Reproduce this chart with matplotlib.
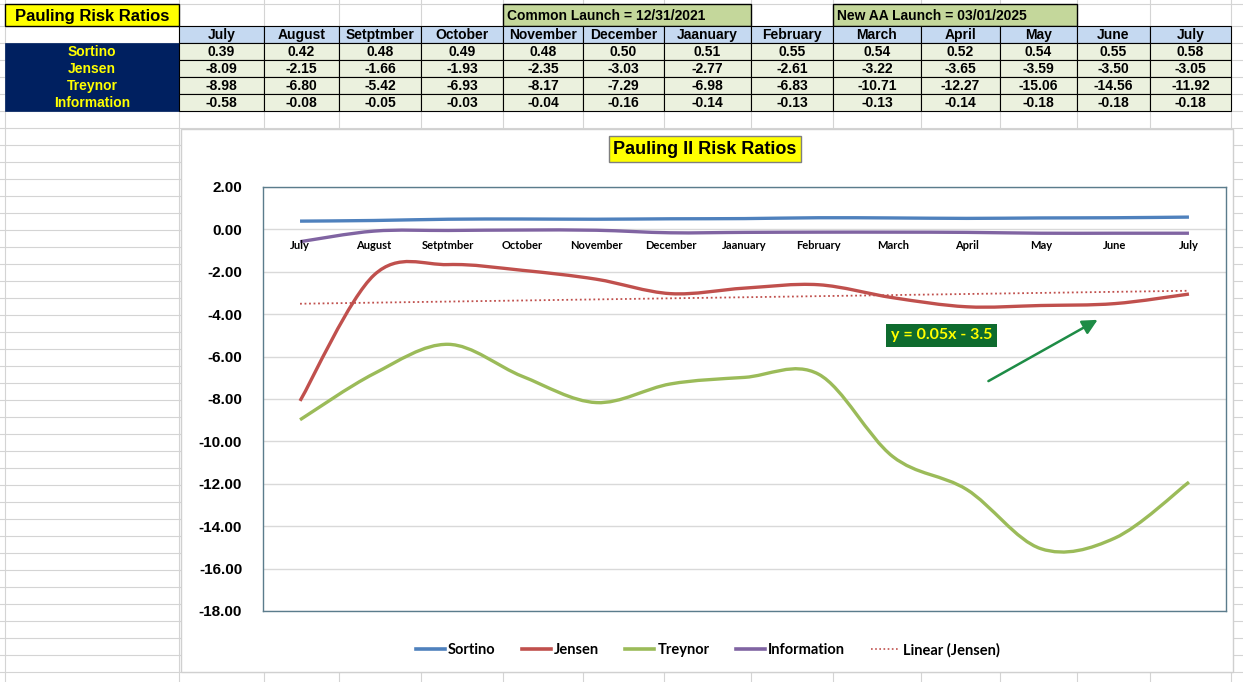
import numpy as np
import matplotlib
matplotlib.use('Agg')
import matplotlib.pyplot as plt
from matplotlib.patches import Rectangle, PathPatch
from matplotlib.path import Path
from matplotlib.lines import Line2D

months = ['July', 'August', 'Setptmber', 'October', 'November', 'December',
          'Jaanuary', 'February', 'March', 'April', 'May', 'June', 'July']
sortino = [0.39, 0.42, 0.48, 0.49, 0.48, 0.50, 0.51, 0.55, 0.54, 0.52, 0.54, 0.55, 0.58]
jensen = [-8.09, -2.15, -1.66, -1.93, -2.35, -3.03, -2.77, -2.61, -3.22, -3.65, -3.59, -3.50, -3.05]
treynor = [-8.98, -6.80, -5.42, -6.93, -8.17, -7.29, -6.98, -6.83, -10.71, -12.27, -15.06, -14.56, -11.92]
information = [-0.58, -0.08, -0.05, -0.03, -0.04, -0.16, -0.14, -0.13, -0.13, -0.14, -0.18, -0.18, -0.18]
row_names = ['Sortino', 'Jensen', 'Treynor', 'Information']
yticks = [2, 0, -2, -4, -6, -8, -10, -12, -14, -16, -18]
trend_label = 'y = 0.05x - 3.5'

colors = {'Sortino': '#4f81bd', 'Jensen': '#c0504d',
          'Treynor': '#9bbb59', 'Information': '#8064a2'}

W, H = 1243, 682
fig = plt.figure(figsize=(W / 100, H / 100), dpi=100)
fig.patch.set_facecolor('white')

narrow = ['Liberation Sans Narrow', 'Liberation Sans', 'DejaVu Sans']
arial = ['Liberation Sans', 'DejaVu Sans']
chartfont = ['Lato', 'DejaVu Sans']

# spreadsheet underneath, in pixel coords
sh = fig.add_axes([0, 0, 1, 1])
sh.set_xlim(0, W)
sh.set_ylim(H, 0)
sh.axis('off')
sh.set_zorder(0)

col_x = [5, 179, 264, 339, 421, 503, 583, 664, 751, 833, 921, 1000, 1077, 1150, 1231]
row_y = [4] + list(range(26, H + 17, 17))
grid_c = '#d4d4d4'
for x in col_x:
    sh.plot([x, x], [0, H], color=grid_c, lw=0.8, zorder=1)
for y in row_y:
    sh.plot([0, W], [y, y], color=grid_c, lw=0.8, zorder=1)

# title cell
sh.add_patch(Rectangle((5, 4), 174, 22, facecolor='#ffff00', edgecolor='black', lw=1, zorder=3))
sh.text(92, 16, 'Pauling Risk Ratios', ha='center', va='center', fontsize=12,
        fontweight='bold', family=arial, zorder=4)

# launch notes
for x0, x1, label in [(503, 751, 'Common Launch = 12/31/2021'),
                      (833, 1077, 'New AA Launch = 03/01/2025')]:
    sh.add_patch(Rectangle((x0, 4), x1 - x0, 22, facecolor='#c4d79b', edgecolor='black', lw=1, zorder=3))
    sh.text(x0 + 4, 16, label, ha='left', va='center', fontsize=10, fontweight='bold',
            family=narrow, zorder=4)

# header row
for i, m in enumerate(months):
    x0, x1 = col_x[i + 1], col_x[i + 2]
    sh.add_patch(Rectangle((x0, 26), x1 - x0, 17, facecolor='#c5d9f1', edgecolor='black', lw=0.8, zorder=3))
    sh.text((x0 + x1) / 2, 35, m, ha='center', va='center', fontsize=10, fontweight='bold',
            family=narrow, zorder=4)

# row labels and values
sh.add_patch(Rectangle((5, 43), 174, 68, facecolor='#002060', edgecolor='#002060', lw=0.5, zorder=3))
table = [sortino, jensen, treynor, information]
for r, (name, vals) in enumerate(zip(row_names, table)):
    y0 = 43 + 17 * r
    sh.text(92, y0 + 9, name, ha='center', va='center', fontsize=10, fontweight='bold',
            color='#ffff00', family=narrow, zorder=4)
    for i, v in enumerate(vals):
        x0, x1 = col_x[i + 1], col_x[i + 2]
        sh.add_patch(Rectangle((x0, y0), x1 - x0, 17, facecolor='#ebf1de', edgecolor='black', lw=0.8, zorder=3))
        sh.text((x0 + x1) / 2, y0 + 9, f'{v:.2f}', ha='center', va='center', fontsize=10,
                fontweight='bold', family=narrow, zorder=4)

# chart area
sh.add_patch(Rectangle((181, 129), 1052, 543, facecolor='white', edgecolor='#d0d0d0', lw=1, zorder=5))
sh.text(705, 149, 'Pauling II Risk Ratios', ha='center', va='center', fontsize=13,
        fontweight='bold', family=arial, zorder=6,
        bbox=dict(boxstyle='square,pad=0.25', facecolor='#ffff00', edgecolor='#7f7f7f', lw=1))

# plot area
L, R, T, B = 263, 1226, 187, 611
ax = fig.add_axes([L / W, 1 - B / H, (R - L) / W, (B - T) / H])
ax.set_zorder(2)
ax.set_facecolor('white')
n = len(months)
xs = np.arange(n)
ax.set_xlim(-0.5, n - 0.5)
ax.set_ylim(-18, 2)
ax.set_yticks(yticks)
ax.set_yticklabels([f'{v:.2f}' for v in yticks], fontsize=11, fontweight='bold', family=arial)
ax.tick_params(axis='y', length=0, pad=15)
ax.set_xticks([])
ax.grid(False)
for v in yticks:
    ax.axhline(v, color='#d9d9d9', lw=1, zorder=0)
for s in ax.spines.values():
    s.set_color('#5b7c8c')
    s.set_linewidth(1)


def smooth_path(x, y):
    pts = np.column_stack([x, y]).astype(float)
    verts = [pts[0]]
    codes = [Path.MOVETO]
    m = len(pts)
    for i in range(m - 1):
        p0 = pts[max(i - 1, 0)]
        p1 = pts[i]
        p2 = pts[i + 1]
        p3 = pts[min(i + 2, m - 1)]
        c1 = p1 + (p2 - p0) / 6
        c2 = p2 - (p3 - p1) / 6
        verts += [c1, c2, p2]
        codes += [Path.CURVE4] * 3
    return Path(verts, codes)


series = [('Sortino', sortino), ('Jensen', jensen), ('Treynor', treynor), ('Information', information)]
for name, vals in series:
    ax.add_patch(PathPatch(smooth_path(xs, vals), facecolor='none', edgecolor=colors[name],
                           lw=2.4, capstyle='butt', zorder=3))

# linear trendline of Jensen
k, b = np.polyfit(xs + 1, jensen, 1)
ax.plot(xs, k * (xs + 1) + b, color='#c0504d', lw=1.3, linestyle=(0, (1, 1.5)), zorder=2)

# category labels under the zero line
for i, m in enumerate(months):
    ax.text(i, -0.75, m, ha='center', va='center', fontsize=8, fontweight='bold',
            family=chartfont, zorder=4)

ax.text(8.66, -5.0, trend_label, ha='center', va='center', fontsize=11.5,
        fontweight='bold', color='#ffff00', family=chartfont, zorder=5,
        bbox=dict(boxstyle='square,pad=0.3', facecolor='#0e6b2e', edgecolor='none'))
ax.annotate('', xy=(10.8, -4.2), xytext=(9.26, -7.22),
            arrowprops=dict(arrowstyle='-|>,head_length=0.9,head_width=0.45',
                            color='#1e8c46', lw=1.8), zorder=5)

handles = [Line2D([], [], color=colors[nm], lw=2.6) for nm, _ in series]
handles.append(Line2D([], [], color='#c0504d', lw=1.2, linestyle=(0, (1, 1.5))))
labels = [nm for nm, _ in series] + ['Linear (Jensen)']
leg = fig.legend(handles, labels, loc='center', bbox_to_anchor=(708 / W, 1 - 650 / H), ncol=5,
                 frameon=False, handlelength=2.0, handletextpad=0.2, columnspacing=1.8,
                 prop={'family': chartfont, 'weight': 'bold', 'size': 10.5})
leg.set_zorder(10)

fig.savefig('out.png', dpi=100)
